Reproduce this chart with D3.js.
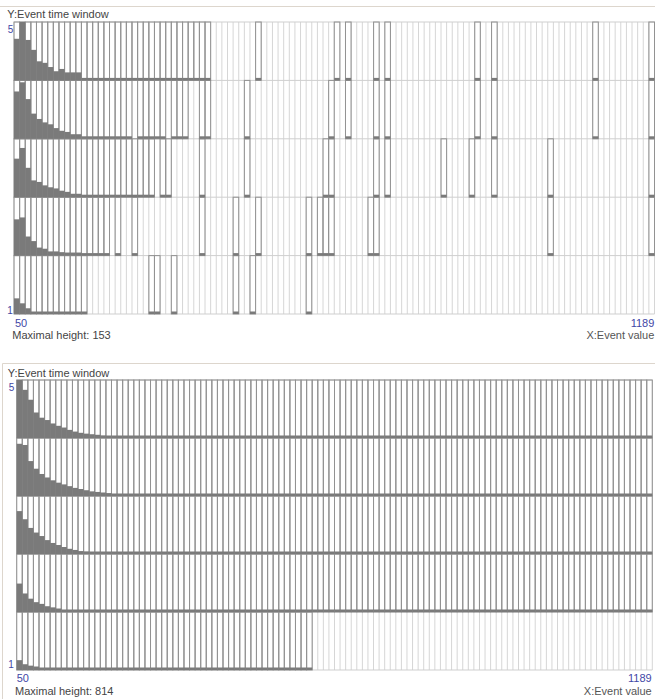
<!DOCTYPE html>
<html><head><meta charset="utf-8">
<script src="https://cdn.jsdelivr.net/npm/d3@7"></script>
<style>html,body{margin:0;padding:0;background:#fff;} svg{display:block;font-family:"Liberation Sans",Arial,sans-serif;}</style>
</head><body><svg id="c" width="655" height="699"></svg>
<script>
// ---- data ----
const xFirst = 50, xLast = 1189, binCount = 114;
const yLevels = [5, 4, 3, 2, 1];
const yAxisTitle = "Y:Event time window";
const xAxisTitle = "X:Event value";
const maxHeights = [153, 814];

// Panel 1 counts per bin (rows = event time window 1..5)
const p1r5 = [109,153,106,80,50,46,35,24,30,21, 21,21,6,5,5,4,4,4,3,3, 3,3,2,2,2,2,2,2,1,1, 1,1,1,1,1,0,0,0,0,0,
  0,0,0,1,0,0,0,0,0,0, 0,0,0,0,0,0,0,1,0,1, 0,0,0,0,1,0,1,0,0,0, 0,0,0,0,0,0,0,0,0,0,
  0,0,1,0,0,1,0,0,0,0, 0,0,0,0,0,0,0,0,0,0, 0,0,0,1,0,0,0,0,0,0, 0,0,0,1];
const p1r4 = [124,148,104,66,52,43,38,28,21,18, 12,12,5,4,4,3,3,2,2,2, 1,0,2,1,1,1,1,0,1,1, 1,0,0,1,1,0,0,0,0,0,
  0,1,0,0,0,0,0,0,0,0, 0,0,0,0,0,0,1,0,0,1, 0,0,0,0,1,0,1,0,0,0, 0,0,0,0,0,0,0,0,0,0,
  0,0,1,0,0,1,0,0,0,0, 0,0,0,0,0,0,0,0,0,0, 0,0,0,1,0,0,0,0,0,0, 0,0,0,1];
const p1r3 = [101,129,77,44,40,31,26,23,17,14, 9,9,5,4,4,3,3,3,2,2, 2,1,1,1,1,0,1,1,0,0, 0,0,0,1,0,0,0,0,0,0,
  0,1,0,0,0,0,0,0,0,0, 0,0,0,0,0,1,1,0,0,0, 0,0,0,0,1,0,1,0,0,0, 0,0,0,0,0,0,1,0,0,0,
  0,1,0,0,0,1,0,0,0,0, 0,0,0,0,0,1,0,0,0,0, 0,0,0,0,0,0,0,0,0,0, 0,0,0,1];
const p1r2 = [95,100,50,38,21,18,11,11,9,8, 8,8,4,3,2,2,1,0,1,0, 0,1,0,0,0,0,0,0,0,0, 0,0,0,1,0,0,0,0,0,1,
  0,0,0,1,0,0,0,0,0,0, 0,0,1,0,1,1,1,0,0,0, 0,0,0,1,1,0,0,0,0,0, 0,0,0,0,0,0,0,0,0,0,
  0,0,0,0,0,0,0,0,0,0, 0,0,0,0,0,1,0,0,0,0, 0,0,0,0,0,0,0,0,0,0, 0,0,0,1];
const p1r1 = [41,28,15,6,4,3,3,2,2,2, 1,1,1,0,0,0,0,0,0,0, 0,0,0,0,1,1,0,0,1,0, 0,0,0,0,0,0,0,0,0,1,
  0,0,1,0,0,0,0,0,0,0, 0,0,1,0,0,0,0,0,0,0, 0,0,0,0,0,0,0,0,0,0, 0,0,0,0,0,0,0,0,0,0,
  0,0,0,0,0,0,0,0,0,0, 0,0,0,0,0,0,0,0,0,0, 0,0,0,0,0,0,0,0,0,0, 0,0,0,0];

// Panel 2 counts per bin
const p2r5 = [814,676,537,358,285,252,204,171,147,114, 90,73,61,53,45,37,33,28,24,20, 18,17,16,15,14,13,12,12,11,10, 10,9,9,8,8,7,7,7,6,6,
  6,5,5,5,5,4,4,4,4,4, 3,3,3,3,3,3,3,3,2,2, 2,2,2,2,2,2,2,2,2,2, 2,2,1,2,1,1,2,1,1,1,
  1,1,1,1,1,1,1,1,1,1, 1,1,1,1,1,1,1,1,1,1, 1,1,1,1,1,1,1,1,1,1, 1,1,1,1];
const p2r4 = [733,716,490,383,309,260,220,187,163,138, 114,98,81,65,57,49,41,33,28,24, 20,18,16,15,14,12,11,10,10,9, 8,8,7,7,6,6,6,5,5,5,
  4,4,4,4,4,3,3,3,3,3, 3,3,2,2,2,2,2,2,2,2, 2,2,2,2,1,2,1,1,2,1, 1,1,1,1,1,1,1,1,1,1,
  1,1,1,1,1,1,1,1,1,1, 1,1,1,1,1,1,1,1,1,1, 1,1,1,1,1,1,1,1,1,1, 1,1,1,1];
const p2r3 = [602,488,366,301,252,195,155,126,98,73, 57,41,37,33,28,24,20,17,15,13, 12,10,9,8,8,7,6,6,5,5, 5,4,4,4,3,3,3,3,3,2,
  2,2,2,2,2,2,2,2,1,2, 1,1,1,1,1,1,1,1,1,1, 1,1,1,1,1,1,1,1,1,1, 1,1,1,1,1,1,1,1,1,1,
  1,1,1,1,1,1,1,1,1,1, 1,1,1,1,1,1,1,1,1,1, 1,1,1,1,1,1,1,1,1,1, 1,1,1,1];
const p2r2 = [399,260,187,138,114,81,65,49,33,28, 24,20,17,15,13,11,10,9,8,7, 6,6,5,5,4,4,4,3,3,3, 3,3,2,2,2,2,2,2,2,2,
  2,2,1,1,1,1,1,1,1,1, 1,1,1,1,1,1,1,1,1,1, 1,1,1,1,1,1,1,1,1,1, 1,1,1,1,1,1,1,1,1,1,
  1,1,1,1,1,1,1,1,1,1, 1,1,1,1,1,1,1,1,1,1, 1,1,1,1,1,1,1,1,1,1, 1,1,1,1];
const p2r1 = [138,81,61,49,30,24,20,17,14,12, 10,9,8,7,6,6,5,5,4,4, 4,3,3,3,3,3,2,2,2,2, 2,2,2,2,2,1,2,1,1,1,
  1,1,1,1,1,1,1,1,1,1, 1,1,1,0,0,0,0,0,0,0, 0,0,0,0,0,0,0,0,0,0, 0,0,0,0,0,0,0,0,0,0,
  0,0,0,0,0,0,0,0,0,0, 0,0,0,0,0,0,0,0,0,0, 0,0,0,0,0,0,0,0,0,0, 0,0,0,0];

// ---- layout ----
const panels = [
  { rows: {5:p1r5, 4:p1r4, 3:p1r3, 2:p1r2, 1:p1r1}, max: maxHeights[0],
    frameTop: 6.5, frameLeft: null, left: 14, right: 654.5, top: 22, bottom: 314,
    titleX: 7.3, titleY: 17.5, topLblX: 7.8, topLblY: 32.5, botLblX: 7.3, botLblY: 313.5,
    xLblY: 327, xLblLeft: 15, xLblRight: 654.3, footY: 338.5, footLeft: 12.3 },
  { rows: {5:p2r5, 4:p2r4, 3:p2r3, 2:p2r2, 1:p2r1}, max: maxHeights[1],
    frameTop: 363.5, frameLeft: 2.5, left: 16.7, right: 652.3, top: 380, bottom: 670,
    titleX: 7.8, titleY: 377, topLblX: 8.8, topLblY: 391, botLblX: 8.3, botLblY: 668,
    xLblY: 681.5, xLblLeft: 16.7, xLblRight: 651.7, footY: 694.5, footLeft: 15 }
];

const svg = d3.select('#c');
const blue = '#3f47a6';

panels.forEach(cfg => {
  const g = svg.append('g');
  const x = d3.scaleBand().domain(d3.range(binCount)).range([cfg.left, cfg.right]);
  const y = d3.scaleBand().domain(yLevels).range([cfg.top, cfg.bottom]);
  const rh = y.bandwidth();
  const h = d3.scaleLinear().domain([0, cfg.max]).range([0, rh]);

  // frame
  g.append('line').attr('x1', cfg.frameLeft == null ? 0 : cfg.frameLeft).attr('x2', 655)
    .attr('y1', cfg.frameTop).attr('y2', cfg.frameTop).attr('stroke', '#ddd6cd');
  if (cfg.frameLeft != null) {
    g.append('line').attr('x1', cfg.frameLeft).attr('x2', cfg.frameLeft)
      .attr('y1', cfg.frameTop).attr('y2', 699).attr('stroke', '#ddd6cd');
  }

  // light grid: column boundaries
  const bounds = d3.range(binCount).map(i => x(i)).concat([x(binCount - 1) + x.bandwidth()]);
  g.selectAll('.vl').data(bounds).join('line')
    .attr('x1', d => d).attr('x2', d => d).attr('y1', cfg.top).attr('y2', cfg.bottom)
    .attr('stroke', '#d6d6d6').attr('stroke-width', 1);
  // row boundaries
  const rowLines = yLevels.map(l => y(l)).concat([cfg.bottom]);
  g.selectAll('.hl').data(rowLines).join('line')
    .attr('x1', cfg.left).attr('x2', bounds[bounds.length - 1]).attr('y1', d => d).attr('y2', d => d)
    .attr('stroke', '#cfcfcf').attr('stroke-width', 1);

  // non-zero cells
  const cells = [];
  yLevels.forEach(l => cfg.rows[l].forEach((v, i) => { if (v > 0) cells.push({l, i, v}); }));

  g.selectAll('.box').data(cells).join('rect')
    .attr('x', d => x(d.i)).attr('y', d => y(d.l))
    .attr('width', x.bandwidth()).attr('height', rh)
    .attr('fill', 'none').attr('stroke', '#929292').attr('stroke-width', 1);

  g.selectAll('.bar').data(cells).join('rect')
    .attr('x', d => x(d.i)).attr('width', x.bandwidth())
    .attr('y', d => y(d.l) + rh - Math.max(2.5, h(d.v)))
    .attr('height', d => Math.max(2.5, h(d.v)))
    .attr('fill', '#7a7a7a');

  // texts
  g.append('text').attr('x', cfg.titleX).attr('y', cfg.titleY).attr('font-size', 11)
    .attr('fill', '#444').text(yAxisTitle);
  g.append('text').attr('x', cfg.topLblX).attr('y', cfg.topLblY).attr('font-size', 10)
    .attr('fill', blue).text(yLevels[0]);
  g.append('text').attr('x', cfg.botLblX).attr('y', cfg.botLblY).attr('font-size', 10)
    .attr('fill', blue).text(yLevels[yLevels.length - 1]);
  g.append('text').attr('x', cfg.xLblLeft).attr('y', cfg.xLblY).attr('font-size', 11)
    .attr('fill', blue).text(xFirst);
  g.append('text').attr('x', cfg.xLblRight).attr('y', cfg.xLblY).attr('font-size', 11)
    .attr('text-anchor', 'end').attr('fill', blue).text(xLast);
  g.append('text').attr('x', cfg.footLeft).attr('y', cfg.footY).attr('font-size', 11)
    .attr('fill', '#444').text('Maximal height: ' + cfg.max);
  g.append('text').attr('x', cfg.xLblRight).attr('y', cfg.footY).attr('font-size', 11)
    .attr('text-anchor', 'end').attr('fill', '#555').text(xAxisTitle);
});
</script>
</body></html>
